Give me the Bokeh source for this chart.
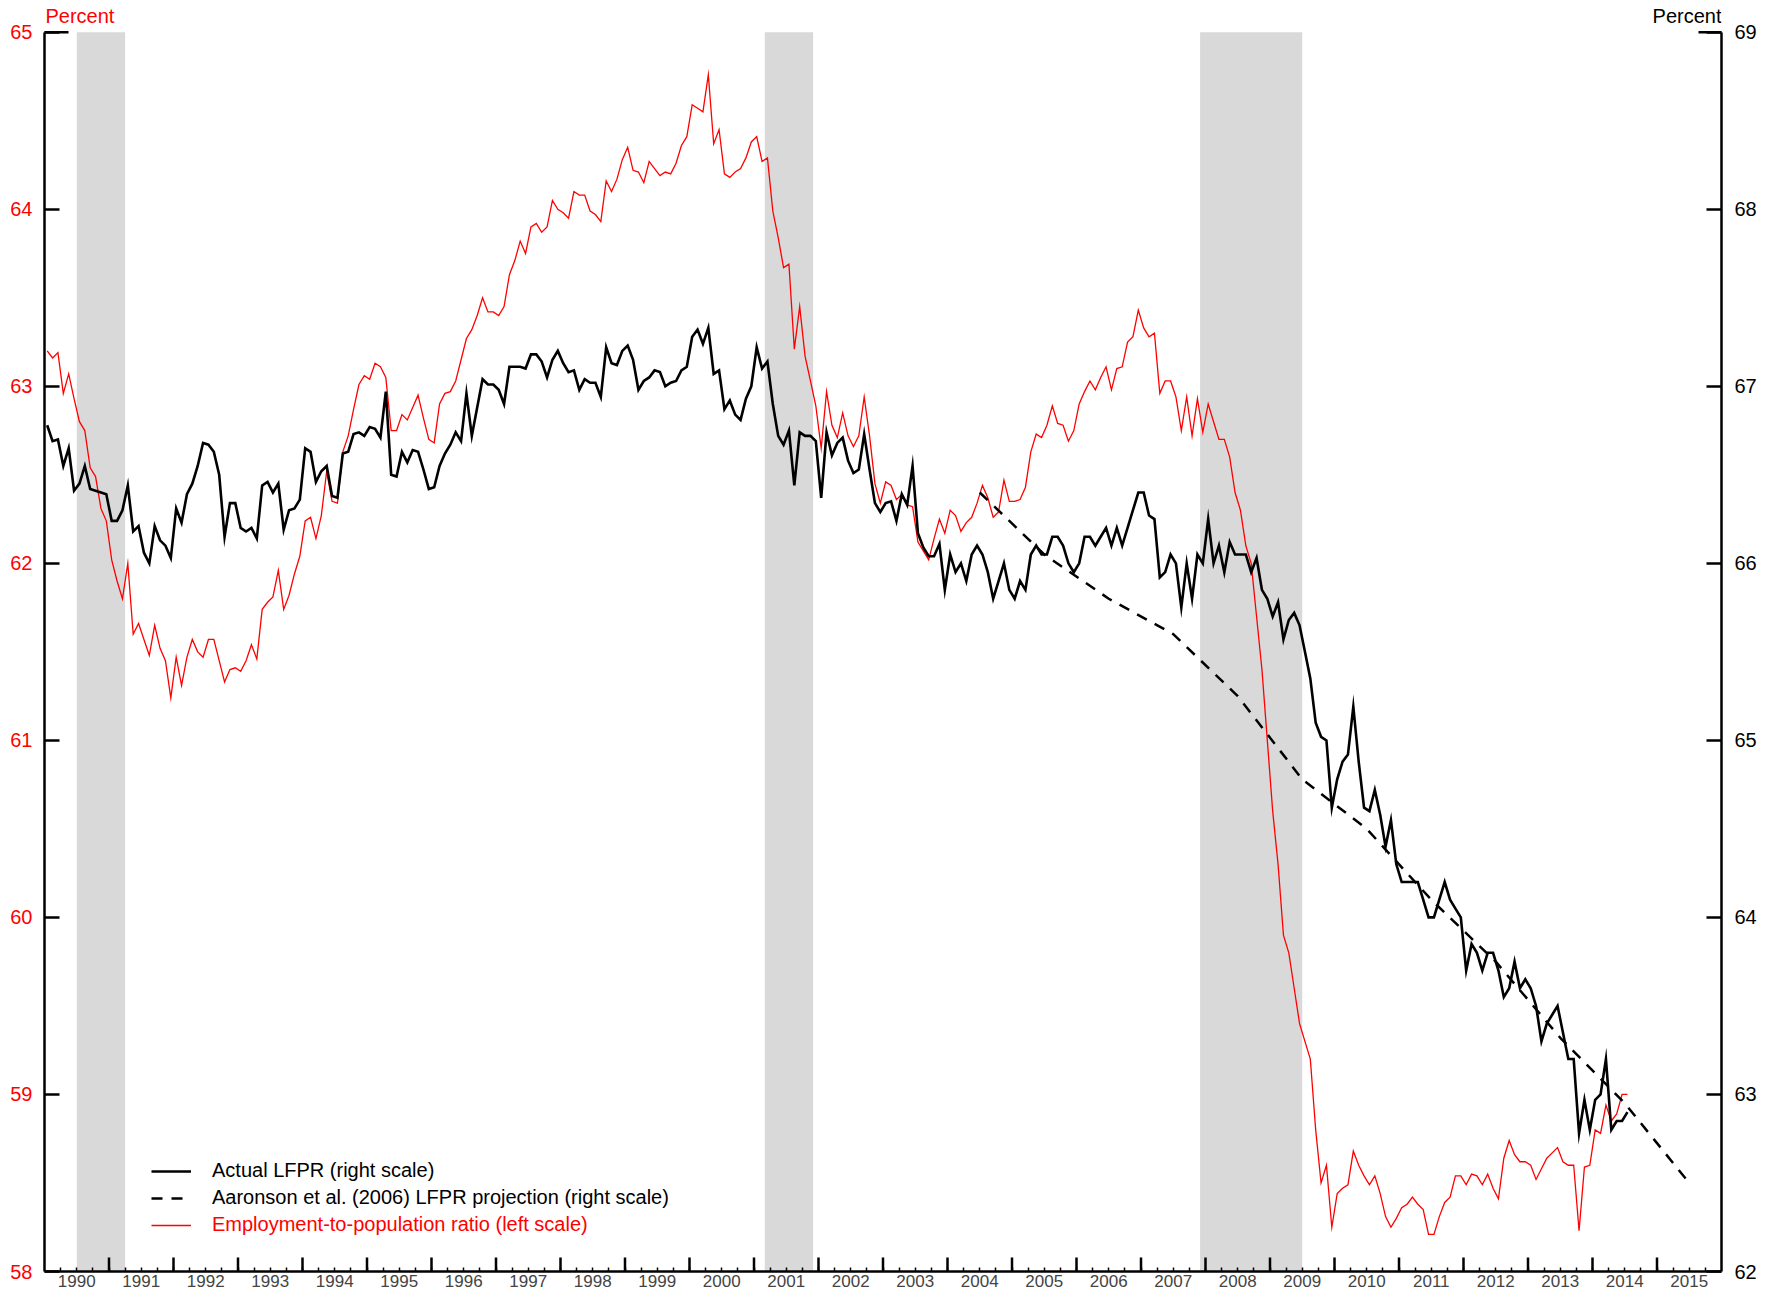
import math
from bokeh.plotting import figure
from bokeh.models import (Range1d, LinearAxis, FixedTicker, BoxAnnotation, Legend,
                          LegendItem, Label, CustomJSTickFormatter)
from bokeh.embed import file_html
from bokeh.resources import INLINE

FONT = "Liberation Sans"
START_YEAR = 1990
X_START, X_END = 1990, 2016

# Actual labor force participation rate (right scale), monthly from Jan 1990
LFPR = [
    66.78, 66.69, 66.70, 66.55, 66.65, 66.41, 66.45, 66.55, 66.42, 66.41, 66.40, 66.39,
    66.24, 66.24, 66.30, 66.44, 66.18, 66.21, 66.06, 66.00, 66.21, 66.13, 66.10, 66.03,
    66.31, 66.23, 66.39, 66.45, 66.55, 66.68, 66.67, 66.63, 66.50, 66.15, 66.34, 66.34,
    66.20, 66.18, 66.20, 66.14, 66.44, 66.46, 66.40, 66.45, 66.19, 66.30, 66.31, 66.36,
    66.65, 66.63, 66.46, 66.52, 66.55, 66.38, 66.37, 66.62, 66.63, 66.73, 66.74, 66.72,
    66.77, 66.76, 66.71, 66.97, 66.50, 66.49, 66.63, 66.57, 66.64, 66.63, 66.53, 66.42,
    66.43, 66.55, 66.62, 66.67, 66.74, 66.69, 66.96, 66.72, 66.88, 67.04, 67.01, 67.01,
    66.98, 66.90, 67.11, 67.11, 67.11, 67.10, 67.18, 67.18, 67.14, 67.05, 67.15, 67.20,
    67.13, 67.08, 67.09, 66.98, 67.04, 67.02, 67.02, 66.94, 67.22, 67.13, 67.12, 67.20,
    67.23, 67.15, 66.98, 67.03, 67.05, 67.09, 67.08, 67.00, 67.02, 67.03, 67.09, 67.11,
    67.28, 67.32, 67.24, 67.33, 67.07, 67.09, 66.87, 66.92, 66.84, 66.81, 66.93, 67.00,
    67.22, 67.10, 67.14, 66.90, 66.72, 66.67, 66.75, 66.44, 66.74, 66.72, 66.72, 66.69,
    66.37, 66.74, 66.61, 66.68, 66.71, 66.58, 66.51, 66.53, 66.73, 66.53, 66.34, 66.29,
    66.34, 66.35, 66.24, 66.39, 66.33, 66.55, 66.17, 66.09, 66.04, 66.04, 66.11, 65.85,
    66.05, 65.95, 66.00, 65.90, 66.05, 66.10, 66.05, 65.95, 65.80, 65.90, 66.00, 65.85,
    65.80, 65.90, 65.85, 66.05, 66.10, 66.05, 66.05, 66.15, 66.15, 66.10, 66.00, 65.95,
    66.00, 66.15, 66.15, 66.10, 66.15, 66.20, 66.10, 66.20, 66.10, 66.20, 66.30, 66.40,
    66.40, 66.27, 66.25, 65.92, 65.95, 66.05, 66.00, 65.75, 66.00, 65.80, 66.05, 66.00,
    66.25, 66.00, 66.10, 65.95, 66.12, 66.05, 66.05, 66.05, 65.95, 66.03, 65.85, 65.80,
    65.70, 65.78, 65.57, 65.68, 65.72, 65.65, 65.50, 65.35, 65.10, 65.02, 65.00, 64.62,
    64.78, 64.88, 64.92, 65.19, 64.88, 64.62, 64.60, 64.72, 64.58, 64.40, 64.55, 64.30,
    64.20, 64.20, 64.20, 64.20, 64.10, 64.00, 64.00, 64.10, 64.20, 64.10, 64.05, 64.00,
    63.70, 63.85, 63.80, 63.70, 63.80, 63.80, 63.70, 63.55, 63.60, 63.75, 63.60, 63.65,
    63.60, 63.50, 63.30, 63.40, 63.45, 63.50, 63.35, 63.20, 63.20, 62.78, 62.97, 62.80,
    62.97, 63.00, 63.20, 62.80, 62.85, 62.85, 62.90,
]

# Employment-to-population ratio (left scale), monthly from Jan 1990
EPOP = [
    63.20, 63.16, 63.19, 62.96, 63.07, 62.93, 62.80, 62.75, 62.54, 62.49, 62.31, 62.24,
    62.02, 61.90, 61.80, 62.00, 61.60, 61.66, 61.57, 61.48, 61.65, 61.52, 61.45, 61.24,
    61.47, 61.31, 61.47, 61.57, 61.50, 61.47, 61.57, 61.57, 61.45, 61.33, 61.40, 61.41,
    61.39, 61.45, 61.54, 61.46, 61.74, 61.78, 61.81, 61.96, 61.74, 61.82, 61.94, 62.04,
    62.24, 62.26, 62.14, 62.27, 62.52, 62.35, 62.34, 62.63, 62.72, 62.87, 63.01, 63.06,
    63.04, 63.13, 63.11, 63.05, 62.75, 62.75, 62.84, 62.81, 62.88, 62.95, 62.82, 62.70,
    62.68, 62.90, 62.96, 62.97, 63.03, 63.15, 63.27, 63.32, 63.40, 63.50, 63.42, 63.42,
    63.40, 63.45, 63.63, 63.71, 63.82, 63.75, 63.90, 63.92, 63.87, 63.90, 64.05, 64.00,
    63.98, 63.95, 64.10, 64.08, 64.08, 63.99, 63.97, 63.93, 64.16, 64.10, 64.17, 64.28,
    64.35, 64.22, 64.21, 64.15, 64.27, 64.23, 64.19, 64.21, 64.20, 64.26, 64.36, 64.41,
    64.59, 64.57, 64.55, 64.76, 64.37, 64.45, 64.20, 64.18, 64.21, 64.23, 64.29, 64.38,
    64.41, 64.27, 64.29, 63.99, 63.84, 63.67, 63.69, 63.21, 63.45, 63.17, 63.03, 62.89,
    62.65, 62.97, 62.78, 62.71, 62.85, 62.72, 62.66, 62.72, 62.94, 62.72, 62.45, 62.34,
    62.46, 62.44, 62.36, 62.39, 62.33, 62.32, 62.12, 62.07, 62.02, 62.14, 62.25, 62.17,
    62.30, 62.27, 62.18, 62.23, 62.26, 62.34, 62.44, 62.37, 62.26, 62.29, 62.47, 62.35,
    62.35, 62.36, 62.43, 62.63, 62.73, 62.71, 62.78, 62.89, 62.79, 62.78, 62.69, 62.75,
    62.90, 62.97, 63.03, 62.98, 63.05, 63.11, 62.98, 63.10, 63.11, 63.25, 63.28, 63.43,
    63.33, 63.28, 63.30, 62.96, 63.03, 63.03, 62.94, 62.75, 62.94, 62.72, 62.93, 62.74,
    62.90, 62.80, 62.70, 62.70, 62.60, 62.40, 62.30, 62.10, 62.00, 61.70, 61.40, 61.00,
    60.60, 60.30, 59.90, 59.80, 59.60, 59.40, 59.30, 59.20, 58.80, 58.50, 58.60, 58.25,
    58.44, 58.47, 58.49, 58.68, 58.60, 58.54, 58.49, 58.54, 58.44, 58.31, 58.25, 58.30,
    58.36, 58.38, 58.42, 58.38, 58.35, 58.21, 58.21, 58.31, 58.39, 58.42, 58.54, 58.54,
    58.49, 58.55, 58.54, 58.49, 58.55, 58.47, 58.41, 58.64, 58.74, 58.66, 58.62, 58.62,
    58.60, 58.52, 58.58, 58.64, 58.67, 58.70, 58.62, 58.60, 58.60, 58.23, 58.59, 58.60,
    58.80, 58.78, 58.94, 58.85, 58.89, 59.00, 59.00,
]

# Aaronson et al. (2006) LFPR projection (right scale)
PROJ_YEARS = [2004.5, 2005.5, 2006.5, 2007.5, 2008.5, 2009.5, 2010.5, 2011.5,
              2012.5, 2013.5, 2014.5, 2015.5]
PROJ = [66.40, 66.05, 65.80, 65.60, 65.25, 64.78, 64.50, 64.10, 63.75, 63.32, 62.95, 62.50]

# Recessions (shaded)
REC_START = [1990.5, 2001 + 2 / 12, 2007 + 11 / 12]
REC_END = [1991.25, 2001 + 11 / 12, 2009.5]

LEFT_TICKS = [58, 59, 60, 61, 62, 63, 64, 65]
RIGHT_TICKS = [62, 63, 64, 65, 66, 67, 68, 69]
YEAR_LABELS = list(range(1990, 2016))

# ---- layout constants (pixels) ----
W, H = 1778, 1289
BORDER_L, BORDER_R = 44, 57
FRAME_H_EST = 1271          # frame height left after the year labels
TOP_PAD_PX = 31.7           # room above the top tick for the "Percent" headers
ppu = (FRAME_H_EST - TOP_PAD_PX) / (LEFT_TICKS[-1] - LEFT_TICKS[0])
pad = TOP_PAD_PX / ppu

months = [START_YEAR + (i + 0.5) / 12 for i in range(len(LFPR))]

p = figure(width=W, height=H, x_range=Range1d(X_START, X_END),
           y_range=Range1d(LEFT_TICKS[0], LEFT_TICKS[-1] + pad),
           output_backend="svg", toolbar_location=None,
           x_axis_location=None, y_axis_location=None,
           min_border_left=BORDER_L, min_border_right=BORDER_R,
           min_border_top=0, min_border_bottom=0)
p.extra_y_ranges = {"right": Range1d(RIGHT_TICKS[0], RIGHT_TICKS[-1] + pad)}
p.outline_line_color = None
for g in p.grid:
    g.visible = False

# recession shading
for s, e in zip(REC_START, REC_END):
    p.add_layout(BoxAnnotation(left=s, right=e, top=LEFT_TICKS[-1], fill_color="#d9d9d9",
                               fill_alpha=1.0, line_color=None, level="underlay"))

# axes
left = LinearAxis(ticker=FixedTicker(ticks=LEFT_TICKS), bounds=(LEFT_TICKS[0], LEFT_TICKS[-1]),
                  major_tick_in=15, major_tick_out=0, minor_tick_in=0, minor_tick_out=0,
                  axis_line_width=2.5, major_tick_line_width=2.5,
                  major_label_text_color="#ff0000", major_label_text_font=FONT,
                  major_label_text_font_size="20px", major_label_standoff=12)
p.add_layout(left, "left")
right = LinearAxis(y_range_name="right", ticker=FixedTicker(ticks=RIGHT_TICKS),
                   bounds=(RIGHT_TICKS[0], RIGHT_TICKS[-1]),
                   major_tick_in=15, major_tick_out=0, minor_tick_in=0, minor_tick_out=0,
                   axis_line_width=2.5, major_tick_line_width=2.5,
                   major_label_text_color="black", major_label_text_font=FONT,
                   major_label_text_font_size="20px", major_label_standoff=13)
p.add_layout(right, "right")

quarters = [y + q / 4 for y in range(X_START, X_END) for q in (0, 1, 2, 3)][1:]
xaxis = LinearAxis(ticker=FixedTicker(ticks=[y + 0.5 for y in YEAR_LABELS], minor_ticks=quarters),
                   formatter=CustomJSTickFormatter(code="return String(Math.floor(tick));"),
                   axis_line_width=2.5, major_tick_line_color=None,
                   major_tick_in=0, major_tick_out=0, minor_tick_in=4, minor_tick_out=0,
                   minor_tick_line_width=1.5, major_label_standoff=3,
                   major_label_text_font=FONT, major_label_text_font_size="17px")
p.add_layout(xaxis, "below")

# long year-start ticks (vertical dashes, lower half hidden under the frame edge)
year_starts = list(range(X_START + 1, X_END))
p.scatter(year_starts, [LEFT_TICKS[0]] * len(year_starts), marker="dash", size=28,
          angle=math.pi / 2, line_color="black", line_width=2.5)
# longer caps at the top of both value axes
p.scatter([X_START], [LEFT_TICKS[-1]], marker="dash", size=48, line_color="black",
          line_width=2.5)
p.scatter([X_END], [RIGHT_TICKS[-1]], y_range_name="right", marker="dash", size=46,
          line_color="black", line_width=2.5)

# series
r_red = p.line(months[:len(EPOP)], EPOP, line_color="#ff0000", line_width=1.3,
               line_join="miter")
r_black = p.line(months, LFPR, y_range_name="right", line_color="black", line_width=2.6,
                 line_join="miter")
r_dash = p.line(PROJ_YEARS, PROJ, y_range_name="right", line_color="black", line_width=2.5,
                line_dash="11 9")

# "Percent" unit headers
p.add_layout(Label(x=X_START, y=LEFT_TICKS[-1], text="Percent", x_offset=1, y_offset=16,
                   text_color="#ff0000", text_font=FONT, text_font_size="20px",
                   text_align="left", text_baseline="alphabetic"))
p.add_layout(Label(x=X_END, y=LEFT_TICKS[-1], text="Percent", x_offset=0, y_offset=16,
                   text_color="black", text_font=FONT, text_font_size="20px",
                   text_align="right", text_baseline="alphabetic"))

# legends
common = dict(background_fill_alpha=0, border_line_color=None, padding=0, margin=0,
              glyph_width=40, glyph_height=20, label_height=20, label_standoff=21,
              spacing=4, label_text_font=FONT, label_text_font_size="20px")
leg1 = Legend(items=[LegendItem(label="Actual LFPR (right scale)", renderers=[r_black]),
                     LegendItem(label="Aaronson et al. (2006) LFPR projection (right scale)",
                                renderers=[r_dash])],
              location=(107, 62), label_text_color="black", **common)
leg2 = Legend(items=[LegendItem(label="Employment-to-population ratio (left scale)",
                                renderers=[r_red])],
              location=(107, 35), label_text_color="#ff0000", **common)
p.add_layout(leg1, "center")
p.add_layout(leg2, "center")

open("out.html", "w").write(file_html(p, INLINE))
